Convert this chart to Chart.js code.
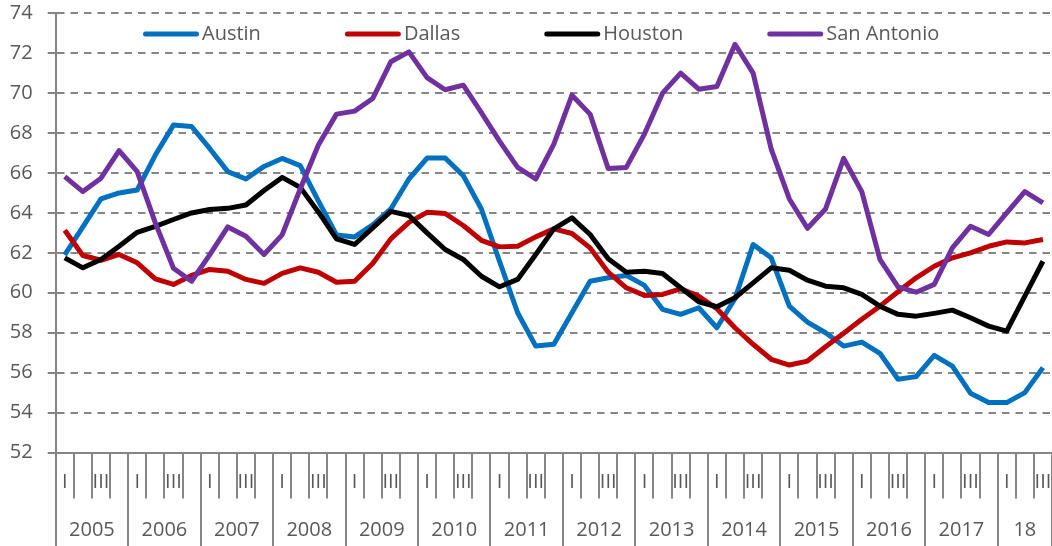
<!DOCTYPE html>
<html>
<head>
<meta charset="utf-8">
<script src="https://cdn.jsdelivr.net/npm/chart.js@4/dist/chart.umd.min.js"></script>
<style>
  html, body { margin: 0; padding: 0; background: #ffffff; }
  #wrap { width: 1052px; height: 546px; }
</style>
</head>
<body>
<div id="wrap"><canvas id="c" width="1052" height="546"></canvas></div>
<script>
// ---- data ----
const quarterLabels = [
  'I','II','III','IV', 'I','II','III','IV', 'I','II','III','IV', 'I','II','III','IV',
  'I','II','III','IV', 'I','II','III','IV', 'I','II','III','IV', 'I','II','III','IV',
  'I','II','III','IV', 'I','II','III','IV', 'I','II','III','IV', 'I','II','III','IV',
  'I','II','III','IV', 'I','II','III'
];
const yearLabels = ['2005','2006','2007','2008','2009','2010','2011','2012','2013','2014','2015','2016','2017','18'];
const yTicks = [52, 54, 56, 58, 60, 62, 64, 66, 68, 70, 72, 74];

const austin = [61.9, 63.3, 64.7, 65.0, 65.15, 66.9, 68.4, 68.33, 67.23, 66.07,
  65.7, 66.33, 66.73, 66.37, 64.6, 62.9, 62.8, 63.4, 64.2, 65.7,
  66.75, 66.75, 65.87, 64.2, 61.58, 59.0, 57.33, 57.42, 59.0, 60.58,
  60.75, 60.87, 60.37, 59.17, 58.92, 59.25, 58.25, 59.7, 62.42, 61.75,
  59.33, 58.53, 58.0, 57.33, 57.53, 56.97, 55.67, 55.8, 56.87, 56.33,
  54.97, 54.5, 54.5, 55.0, 56.25];
const dallas = [63.13, 61.87, 61.63, 61.92, 61.5, 60.7, 60.42, 60.87, 61.17, 61.08,
  60.67, 60.47, 60.97, 61.25, 61.03, 60.53, 60.58, 61.47, 62.7, 63.53,
  64.03, 63.97, 63.37, 62.63, 62.3, 62.33, 62.8, 63.2, 62.97, 62.25,
  61.03, 60.25, 59.87, 59.92, 60.2, 59.83, 59.2, 58.25, 57.42, 56.67,
  56.38, 56.58, 57.3, 57.97, 58.67, 59.33, 60.05, 60.75, 61.33, 61.75,
  62.0, 62.33, 62.55, 62.5, 62.67];
const houston = [61.75, 61.25, 61.67, 62.33, 63.03, 63.33, 63.67, 64.0, 64.17, 64.23,
  64.4, 65.12, 65.78, 65.28, 64.05, 62.7, 62.42, 63.25, 64.08, 63.87,
  63.0, 62.17, 61.67, 60.83, 60.3, 60.67, 61.92, 63.2, 63.75, 62.92,
  61.7, 61.03, 61.08, 60.97, 60.25, 59.55, 59.3, 59.75, 60.5, 61.25,
  61.13, 60.63, 60.33, 60.25, 59.92, 59.33, 58.92, 58.83, 58.97, 59.13,
  58.75, 58.33, 58.08, 59.83, 61.58];
const sanAntonio = [65.82, 65.07, 65.74, 67.12, 66.07, 63.5, 61.23, 60.58, 61.9, 63.3,
  62.83, 61.92, 62.9, 65.2, 67.4, 68.95, 69.1, 69.73, 71.57, 72.07,
  70.78, 70.17, 70.4, 69.03, 67.6, 66.28, 65.7, 67.45, 69.9, 68.95,
  66.23, 66.28, 67.95, 70.0, 71.0, 70.2, 70.33, 72.45, 71.0, 67.2,
  64.7, 63.23, 64.2, 66.73, 65.07, 61.67, 60.3, 60.03, 60.42, 62.25,
  63.33, 62.92, 64.0, 65.07, 64.5];
const seriesNames = ['Austin', 'Dallas', 'Houston', 'San Antonio'];
const seriesColors = ['#0070C0', '#C00000', '#000000', '#7030A0'];

// ---- year structure derived from quarter labels ----
const yearStarts = [];
quarterLabels.forEach((q, i) => { if (q === 'I') yearStarts.push(i); });
const yearBounds = yearStarts.concat([quarterLabels.length]);
const yearCenters = yearStarts.map((s, k) => (s + yearBounds[k + 1]) / 2);

const FONT = "'Open Sans', 'Liberation Sans', sans-serif";
const TEXT = '#595959';
const GRAY = '#868686';

const legendPlugin = {
  id: 'excelLegend',
  afterDraw(chart) {
    const ctx = chart.ctx;
    ctx.save();
    ctx.font = '20px ' + FONT;
    ctx.textBaseline = 'middle';
    ctx.textAlign = 'left';
    let x = 143;
    const y = 34;
    chart.data.datasets.forEach(ds => {
      ctx.strokeStyle = ds.borderColor;
      ctx.lineWidth = 5;
      ctx.lineCap = 'round';
      ctx.beginPath();
      ctx.moveTo(x + 2.5, y);
      ctx.lineTo(x + 53.5, y);
      ctx.stroke();
      ctx.fillStyle = TEXT;
      ctx.fillText(ds.label, x + 59, y);
      x += 59 + ctx.measureText(ds.label).width + 84;
    });
    ctx.restore();
  }
};

const datasets = [austin, dallas, houston, sanAntonio].map((d, k) => ({
  label: seriesNames[k],
  data: d,
  borderColor: seriesColors[k],
  backgroundColor: seriesColors[k],
  borderWidth: 5,
  pointRadius: 0,
  pointHoverRadius: 0,
  tension: 0,
  borderJoinStyle: 'round',
  fill: false,
  order: 4 - k
}));

new Chart(document.getElementById('c'), {
  type: 'line',
  data: { labels: quarterLabels, datasets },
  plugins: [legendPlugin],
  options: {
    responsive: false,
    animation: false,
    devicePixelRatio: 1,
    layout: { padding: { left: 10, right: 0, top: 13.3, bottom: 0 } },
    plugins: { legend: { display: false }, tooltip: { enabled: false } },
    scales: {
      y: {
        min: 52, max: 74,
        afterBuildTicks: s => { s.ticks = yTicks.map(v => ({ value: v })); },
        afterFit: s => { s.width = 45.7; s.paddingTop = 0; s.paddingBottom = 0; },
        grid: {
          color: GRAY, lineWidth: 2, tickLength: 8, tickColor: GRAY, tickWidth: 2,
          tickBorderDash: [], drawTicks: true
        },
        border: { display: true, color: GRAY, width: 2, dash: [7.5, 6] },
        ticks: { color: TEXT, font: { family: FONT, size: 20 }, padding: 15 }
      },
      x: {
        type: 'category',
        offset: true,
        afterFit: s => { s.height = 41.5; s.paddingLeft = 0; s.paddingRight = 0; },
        grid: {
          offset: true, drawOnChartArea: false, drawTicks: true,
          tickLength: 46, color: GRAY, lineWidth: 2
        },
        border: { display: true, color: GRAY, width: 2 },
        ticks: {
          autoSkip: false, maxRotation: 0, minRotation: 0,
          color: TEXT, font: { family: FONT, size: 20 }, padding: -28.5,
          callback: (v, i) => (i % 2 === 0 ? quarterLabels[i] : '')
        }
      },
      year: {
        type: 'linear',
        position: 'bottom',
        min: 0, max: quarterLabels.length,
        afterBuildTicks: s => {
          const vals = yearBounds.concat(yearCenters).sort((a, b) => a - b);
          s.ticks = vals.map(v => ({ value: v }));
        },
        afterFit: s => { s.height = 52; s.paddingLeft = 0; s.paddingRight = 0; },
        grid: {
          drawOnChartArea: false, drawTicks: true, tickLength: 52, lineWidth: 2,
          color: GRAY,
          tickColor: c => (c.tick && yearBounds.includes(c.tick.value)) ? GRAY : 'rgba(0,0,0,0)'
        },
        border: { display: false },
        ticks: {
          autoSkip: false, maxRotation: 0, minRotation: 0,
          color: TEXT, font: { family: FONT, size: 20 }, padding: -28,
          callback: v => { const k = yearCenters.indexOf(v); return k >= 0 ? yearLabels[k] : ''; }
        }
      }
    }
  }
});
</script>
</body>
</html>
